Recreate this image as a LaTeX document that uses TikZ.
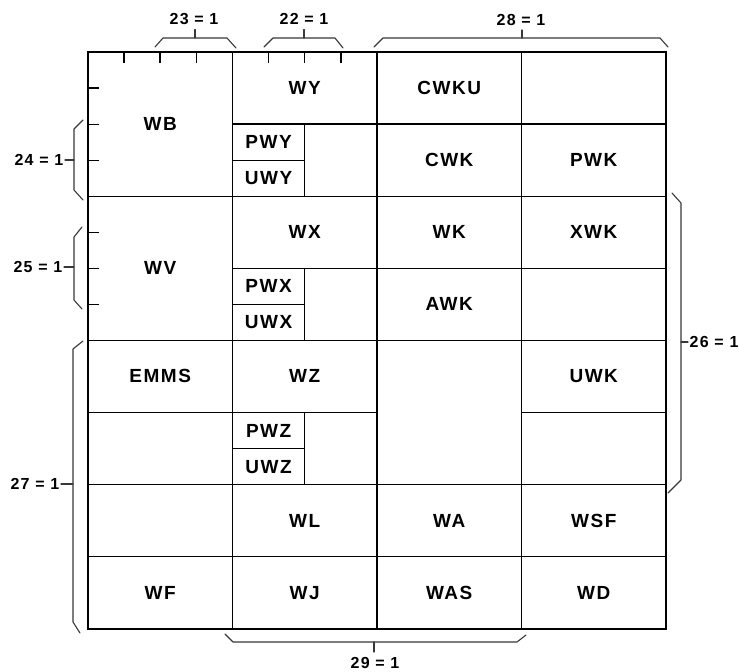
\documentclass[tikz,border=0pt]{standalone}
\usepackage{fontspec}
\setmainfont{Liberation Sans}
\newfontfamily\cellfont[LetterSpace=8]{Liberation Sans}
\newcommand\mycell[6]{%
  \draw[cellline] (#1,#2) rectangle (#3,#4);
  \node[lbl] (#5) at ({(#1+#3)/2},{(#2+#4)/2}) {#6};}
\begin{document}
\begin{tikzpicture}[x=1pt,y=-1pt,
  cellline/.style={line width=1.3pt},
  outer/.style={line width=2.1pt},
  bracket/.style={line width=1.1pt, draw=black!78, line join=round, line cap=round},
  tickline/.style={line width=1.2pt},
  lbl/.style={font=\cellfont\bfseries\fontsize{19}{19}\selectfont, inner sep=0pt},
  dimlbl/.style={font=\cellfont\bfseries\fontsize{16}{16}\selectfont, inner sep=1.5pt}]
\useasboundingbox (0,0) rectangle (740,672);
% column 1
\mycell{88}{52}{232.5}{196.2}{wb}{WB}
\mycell{88}{196.2}{232.5}{340.4}{wv}{WV}
\mycell{88}{340.4}{232.5}{412.5}{emms}{EMMS}
\mycell{88}{412.5}{232.5}{484.6}{ea}{}
\mycell{88}{484.6}{232.5}{556.7}{eb}{}
\mycell{88}{556.7}{232.5}{628.8}{wf}{WF}
% column 2
\mycell{232.5}{52}{377}{124.1}{wy}{WY}
\mycell{232.5}{124.1}{304.75}{160.15}{pwy}{PWY}
\mycell{232.5}{160.15}{304.75}{196.2}{uwy}{UWY}
\mycell{304.75}{124.1}{377}{196.2}{ec}{}
\mycell{232.5}{196.2}{377}{268.3}{wx}{WX}
\mycell{232.5}{268.3}{304.75}{304.35}{pwx}{PWX}
\mycell{232.5}{304.35}{304.75}{340.4}{uwx}{UWX}
\mycell{304.75}{268.3}{377}{340.4}{ed}{}
\mycell{232.5}{340.4}{377}{412.5}{wz}{WZ}
\mycell{232.5}{412.5}{304.75}{448.55}{pwz}{PWZ}
\mycell{232.5}{448.55}{304.75}{484.6}{uwz}{UWZ}
\mycell{304.75}{412.5}{377}{484.6}{ee}{}
\mycell{232.5}{484.6}{377}{556.7}{wl}{WL}
\mycell{232.5}{556.7}{377}{628.8}{wj}{WJ}
% column 3
\mycell{377}{52}{521.5}{124.1}{cwku}{CWKU}
\mycell{377}{124.1}{521.5}{196.2}{cwk}{CWK}
\mycell{377}{196.2}{521.5}{268.3}{wk}{WK}
\mycell{377}{268.3}{521.5}{340.4}{awk}{AWK}
\mycell{377}{340.4}{521.5}{484.6}{ef}{}
\mycell{377}{484.6}{521.5}{556.7}{wa}{WA}
\mycell{377}{556.7}{521.5}{628.8}{was}{WAS}
% column 4
\mycell{521.5}{52}{666}{124.1}{eg}{}
\mycell{521.5}{124.1}{666}{196.2}{pwk}{PWK}
\mycell{521.5}{196.2}{666}{268.3}{xwk}{XWK}
\mycell{521.5}{268.3}{666}{340.4}{eh}{}
\mycell{521.5}{340.4}{666}{412.5}{uwk}{UWK}
\mycell{521.5}{412.5}{666}{484.6}{ei}{}
\mycell{521.5}{484.6}{666}{556.7}{wsf}{WSF}
\mycell{521.5}{556.7}{666}{628.8}{wd}{WD}
% outer frame
\draw[outer] (88,52) rectangle (666,628.8);
% ticks
\foreach \x in {124,160,196.5,268.5,304.75,341}
  \draw[tickline] (\x,52) -- (\x,62.5);
\foreach \y in {88,124.1,160.15,232.25,268.3,304.35}
  \draw[tickline] (88,\y) -- (99,\y);
% dimension labels
\node[dimlbl] (l23) at (194,19) {23 = 1};
\node[dimlbl] (l22) at (304,19) {22 = 1};
\node[dimlbl] (l28) at (521,20) {28 = 1};
\node[dimlbl,anchor=east] (l24) at (65,160) {24 = 1};
\node[dimlbl,anchor=east] (l25) at (64,267) {25 = 1};
\node[dimlbl,anchor=east] (l27) at (61,484) {27 = 1};
\node[dimlbl,anchor=west] (l26) at (688,342) {26 = 1};
\node[dimlbl] (l29) at (375,663) {29 = 1};
% brackets
\coordinate (b23) at (195,38);
\coordinate (b22) at (304,38);
\coordinate (b28) at (522,38);
\coordinate (b24) at (74,160);
\coordinate (b25) at (74,267);
\coordinate (b27) at (73,484);
\coordinate (b26) at (681,342);
\coordinate (b29) at (374,642);
\draw[bracket] (155,47) -- (163,38) -- (227,38) -- (236,48);
\draw[bracket] (b23) -- (195,29.5);
\draw[bracket] (264,47) -- (273,38) -- (335,38) -- (343,48);
\draw[bracket] (b22) -- (304,29.5);
\draw[bracket] (374,47) -- (383,38) -- (660,38) -- (668,47);
\draw[bracket] (b28) -- (522,30);
\draw[bracket] (83,120) -- (74,129) -- (74,190) -- (83,200);
\draw[bracket] (b24) -- (l24.east);
\draw[bracket] (82,227) -- (74,237) -- (74,300) -- (82,309);
\draw[bracket] (b25) -- (l25.east);
\draw[bracket] (83,341) -- (73,349) -- (73,622) -- (80,633);
\draw[bracket] (b27) -- (l27.east);
\draw[bracket] (672,193) -- (681,203) -- (681,480) -- (668,493);
\draw[bracket] (b26) -- (l26.west);
\draw[bracket] (225,634) -- (233,642) -- (517,642) -- (526,635);
\draw[bracket] (b29) -- (374,652);
\end{tikzpicture}
\end{document}
